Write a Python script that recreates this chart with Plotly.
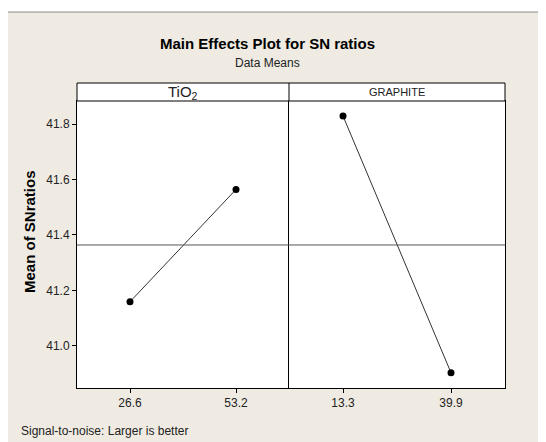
import plotly.graph_objects as go
from plotly.subplots import make_subplots

# Data
factors = ["TiO<sub>2</sub>", "GRAPHITE"]
tio2_levels = ["26.6", "53.2"]
tio2_sn = [41.159, 41.564]
graphite_levels = ["13.3", "39.9"]
graphite_sn = [41.829, 40.903]
y_ticks = [41.0, 41.2, 41.4, 41.6, 41.8]

OFF = 8  # page body margin
W, H = 546 - OFF, 442 - OFF
# plot area in reference-pixel coordinates
X0, X1, Y0, Y1 = 77, 505, 101, 388
L, R, T = X0 - OFF, W - (X1 - OFF), Y0 - OFF
B = H - (Y1 - OFF)
pw, ph = W - L - R, H - T - B

def px(x):
    return (x - OFF - L) / pw

def py(y):
    return (H - B - (y - OFF)) / ph

FONT = "Liberation Sans, Arial, sans-serif"
split = px(289)

fig = make_subplots(rows=1, cols=2, shared_yaxes=True, horizontal_spacing=0)
fig.add_trace(go.Scatter(x=tio2_levels, y=tio2_sn, mode="lines+markers",
                         line=dict(color="#333333", width=1),
                         marker=dict(color="black", size=7)), row=1, col=1)
fig.add_trace(go.Scatter(x=graphite_levels, y=graphite_sn, mode="lines+markers",
                         line=dict(color="#333333", width=1),
                         marker=dict(color="black", size=7)), row=1, col=2)

grand_mean = (sum(tio2_sn) + sum(graphite_sn)) / (len(tio2_sn) + len(graphite_sn))

axis_common = dict(showline=True, linecolor="black", linewidth=1,
                   showgrid=False, zeroline=False,
                   tickfont=dict(family=FONT, size=12, color="#222"))
fig.update_xaxes(type="category", range=[-0.5, 1.5], ticks="outside", ticklen=4,
                 tickcolor="black", mirror=True, **axis_common)
fig.update_xaxes(domain=[0, split], row=1, col=1)
fig.update_xaxes(domain=[split, 1], row=1, col=2)
fig.update_yaxes(range=[40.848, 41.883], **axis_common)
fig.update_yaxes(tickvals=y_ticks, ticktext=[f"{v:.1f}" for v in y_ticks],
                 ticks="outside", ticklen=4, tickcolor="black", mirror=False,
                 row=1, col=1)
fig.update_yaxes(showticklabels=False, ticks="", mirror=True, row=1, col=2)

shapes = [
    # beige panel
    dict(type="rect", xref="paper", yref="paper", x0=px(7), x1=px(570),
         y0=py(470), y1=py(12), fillcolor="#EFEBE2",
         line=dict(color="#8a8a8a", width=1), layer="below"),
    # white plot area
    dict(type="rect", xref="paper", yref="paper", x0=0, x1=1, y0=0, y1=1,
         fillcolor="white", line=dict(width=0), layer="below"),
    # strip
    dict(type="rect", xref="paper", yref="paper", x0=0, x1=1,
         y0=1, y1=py(83), fillcolor="white",
         line=dict(color="black", width=1)),
    dict(type="line", xref="paper", yref="paper", x0=split, x1=split,
         y0=1, y1=py(83), line=dict(color="black", width=1)),
    # grand mean line
    dict(type="line", xref="paper", yref="y", x0=0, x1=1,
         y0=grand_mean, y1=grand_mean, line=dict(color="#555555", width=1)),
]

def ann(text, x, y, size, color="#222", **kw):
    d = dict(text=text, x=x, y=y, xref="paper", yref="paper", showarrow=False,
             xanchor="center", yanchor="middle",
             font=dict(family=FONT, size=size, color=color))
    d.update(kw)
    return d

annotations = [
    ann("<b>Main Effects Plot for SN ratios</b>", px(267), py(43), 15, "black"),
    ann("Data Means", px(267), py(63), 12),
    ann(factors[0], split / 2, py(92), 15),
    ann(factors[1], (split + 1) / 2, py(92), 11),
    ann("<b>Mean of SNratios</b>", px(29), py(232), 15, "black", textangle=-90),
    ann("Signal-to-noise: Larger is better", px(19), py(431), 12, xanchor="left"),
]

fig.update_layout(width=W, height=H, margin=dict(l=L, r=R, t=T, b=B),
                  paper_bgcolor="white", plot_bgcolor="white",
                  showlegend=False, shapes=shapes, annotations=annotations)

fig.write_html("out.html")
